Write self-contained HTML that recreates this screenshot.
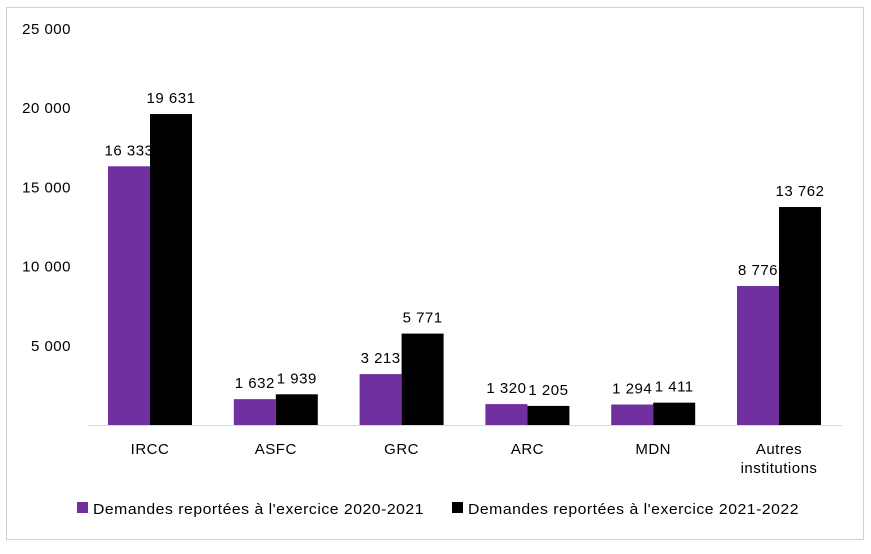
<!DOCTYPE html>
<html><head><meta charset="utf-8"><style>
body{margin:0;background:#fff;font-family:"Liberation Sans",sans-serif;}
svg text{font-family:"Liberation Sans",sans-serif;font-size:15px;letter-spacing:0.5px;fill:#000;}
</style></head><body>
<svg id="chart" width="871" height="549">
<rect x="6.5" y="7.5" width="857" height="532" fill="#fff" stroke="#d0d0d0"/>
<g id="yaxis"></g>
<g id="bars"></g>
<line x1="88" y1="425.5" x2="842" y2="425.5" stroke="#d9d9d9"/>
<g id="xlabels"></g>
<g>
<g>
<rect x="77" y="502" width="11" height="11" fill="#7030A0"/>
<text x="93" y="514" textLength="331" lengthAdjust="spacingAndGlyphs">Demandes reportées à l'exercice 2020-2021</text></g>
<g>
<rect x="452" y="502" width="11" height="11" fill="#000"/>
<text x="468" y="514" textLength="331" lengthAdjust="spacingAndGlyphs">Demandes reportées à l'exercice 2021-2022</text></g>
</g>
</svg>
<script>
const categories=["IRCC","ASFC","GRC","ARC","MDN","Autres institutions"];
const series2021=[16333,1632,3213,1320,1294,8776];
const series2022=[19631,1939,5771,1205,1411,13762];
const ticks=[5000,10000,15000,20000,25000];
const NS="http://www.w3.org/2000/svg";
const y0=425,pxPer=79.2/5000;
const y=v=>y0-v*pxPer;
const x=i=>150+i*125.8;
const fmt=v=>String(v).replace(/\B(?=(\d{3})+(?!\d))/g,"\u00a0");
function mk(tag,attrs,parent,txt){const e=document.createElementNS(NS,tag);for(const k in attrs)e.setAttribute(k,attrs[k]);if(txt!==undefined)e.textContent=txt;parent.appendChild(e);return e;}
const ya=document.getElementById("yaxis"),bars=document.getElementById("bars"),xl=document.getElementById("xlabels");
ticks.forEach(t=>{const e=mk("text",{x:71,y:y(t)+5,"text-anchor":"end"},ya,fmt(t));

});
categories.forEach((c,i)=>{
 const cx=x(i),w=42;
 [[series2021,"#7030A0",cx-w],[series2022,"#000",cx]].forEach(([s,col,bx],k)=>{
  const r=mk("rect",{x:bx,y:y(s[i]),width:w,height:y0-y(s[i]),fill:col},bars);
  
  
  const l=mk("text",{x:bx+w/2,y:y(s[i])-11,"text-anchor":"middle"},bars,fmt(s[i]));
  
  
 });
 const words=c.split(" ");
 words.forEach((wd,j)=>{const t=mk("text",{x:cx,y:454+j*19,"text-anchor":"middle"},xl,wd);
 
 });
});
</script>
</body></html>
